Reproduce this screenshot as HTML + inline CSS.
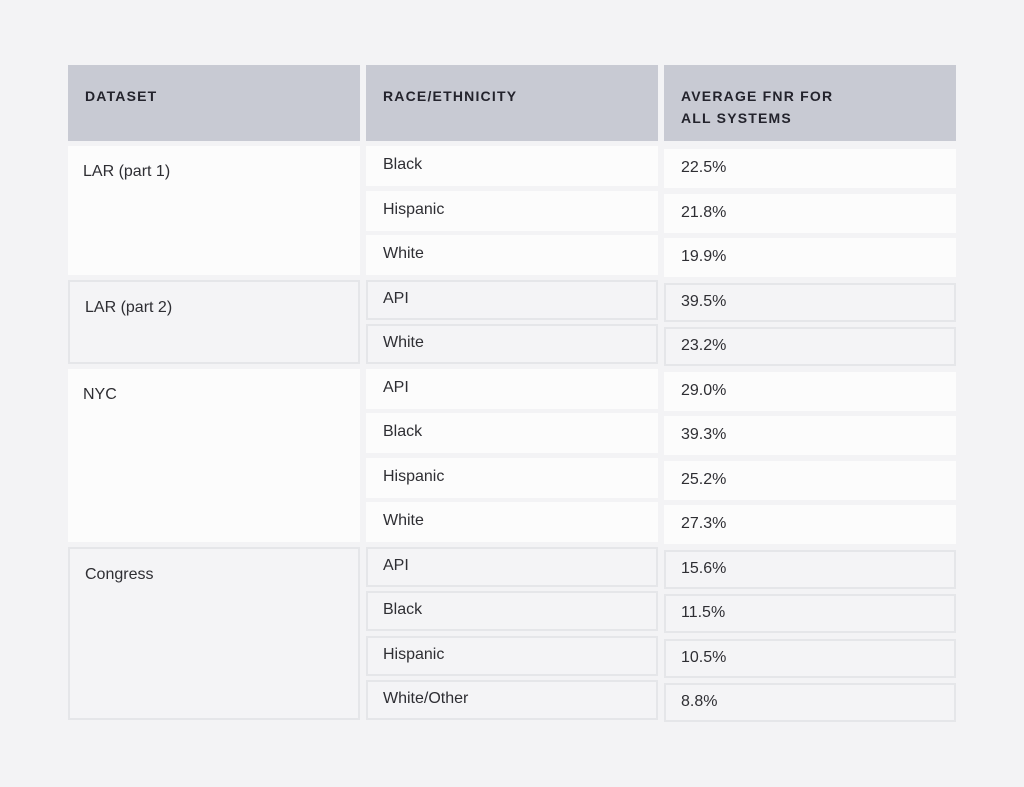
<!DOCTYPE html>
<html><head><meta charset="utf-8"><style>
html,body{margin:0;padding:0;}
body{width:1024px;height:787px;background:#f3f3f5;position:relative;overflow:hidden;font-family:"Liberation Sans",sans-serif;color:#2e2e33;}
.c{position:absolute;box-sizing:border-box;}
.hd{background:#c8cad3;font-weight:bold;font-size:14px;letter-spacing:1.2px;color:#23232c;padding:20px 0 0 17px;line-height:22px;}
.w{background:#fcfcfc;}
.g{background:#f4f4f6;border:2px solid #e5e6e9;}
.t{position:absolute;font-size:16px;line-height:20px;}
</style></head><body>
<div class="c hd" style="left:68px;top:65px;width:292px;height:76px">DATASET</div>
<div class="c hd" style="left:366px;top:65px;width:292px;height:76px">RACE/ETHNICITY</div>
<div class="c hd" style="left:664px;top:65px;width:292px;height:76px">AVERAGE FNR FOR<br>ALL SYSTEMS</div>
<script>
const datasets=["LAR (part 1)","LAR (part 2)","NYC","Congress"];
const groupSizes=[3,2,4,4];
const races=["Black","Hispanic","White","API","White","API","Black","Hispanic","White","API","Black","Hispanic","White/Other"];
const fnrLabels=["22.5%","21.8%","19.9%","39.5%","23.2%","29.0%","39.3%","25.2%","27.3%","15.6%","11.5%","10.5%","8.8%"];
const PITCH=44.5, TOP=146;
let idx=0;
datasets.forEach((ds,gi)=>{
  const n=groupSizes[gi];
  const cls=gi%2===0?'w':'g';
  const gtop=TOP+idx*PITCH;
  const gd=document.createElement('div');
  gd.className='c '+cls;
  gd.style.cssText=`left:68px;top:${gtop}px;width:292px;height:${n*PITCH-5}px`;
  
  
  const gt=document.createElement('div');
  gt.className='t';gt.style.cssText='left:15px;top:16px';
  gt.textContent=ds;
  
  
  gd.appendChild(gt);
  document.body.appendChild(gd);
  for(let k=0;k<n;k++){
    const i=idx+k;
    const top=TOP+i*PITCH;
    const r=document.createElement('div');
    r.className='c '+cls;
    r.style.cssText=`left:366px;top:${top}px;width:292px;height:40px`;
    
    
    const rt=document.createElement('div');
    rt.className='t';rt.style.cssText=`left:${cls==='g'?15:17}px;top:${cls==='g'?7:9}px`;
    rt.textContent=races[i];
    
    
    r.appendChild(rt);
    document.body.appendChild(r);
    const f=document.createElement('div');
    f.className='c '+cls;
    f.style.cssText=`left:664px;top:${top+3}px;width:292px;height:39px`;
    
    
    const ft=document.createElement('div');
    ft.className='t';ft.style.cssText=`left:${cls==='g'?15:17}px;top:${cls==='g'?7:9}px`;
    ft.textContent=fnrLabels[i];
    
    
    f.appendChild(ft);
    document.body.appendChild(f);
  }
  idx+=n;
});
</script>
</body></html>
